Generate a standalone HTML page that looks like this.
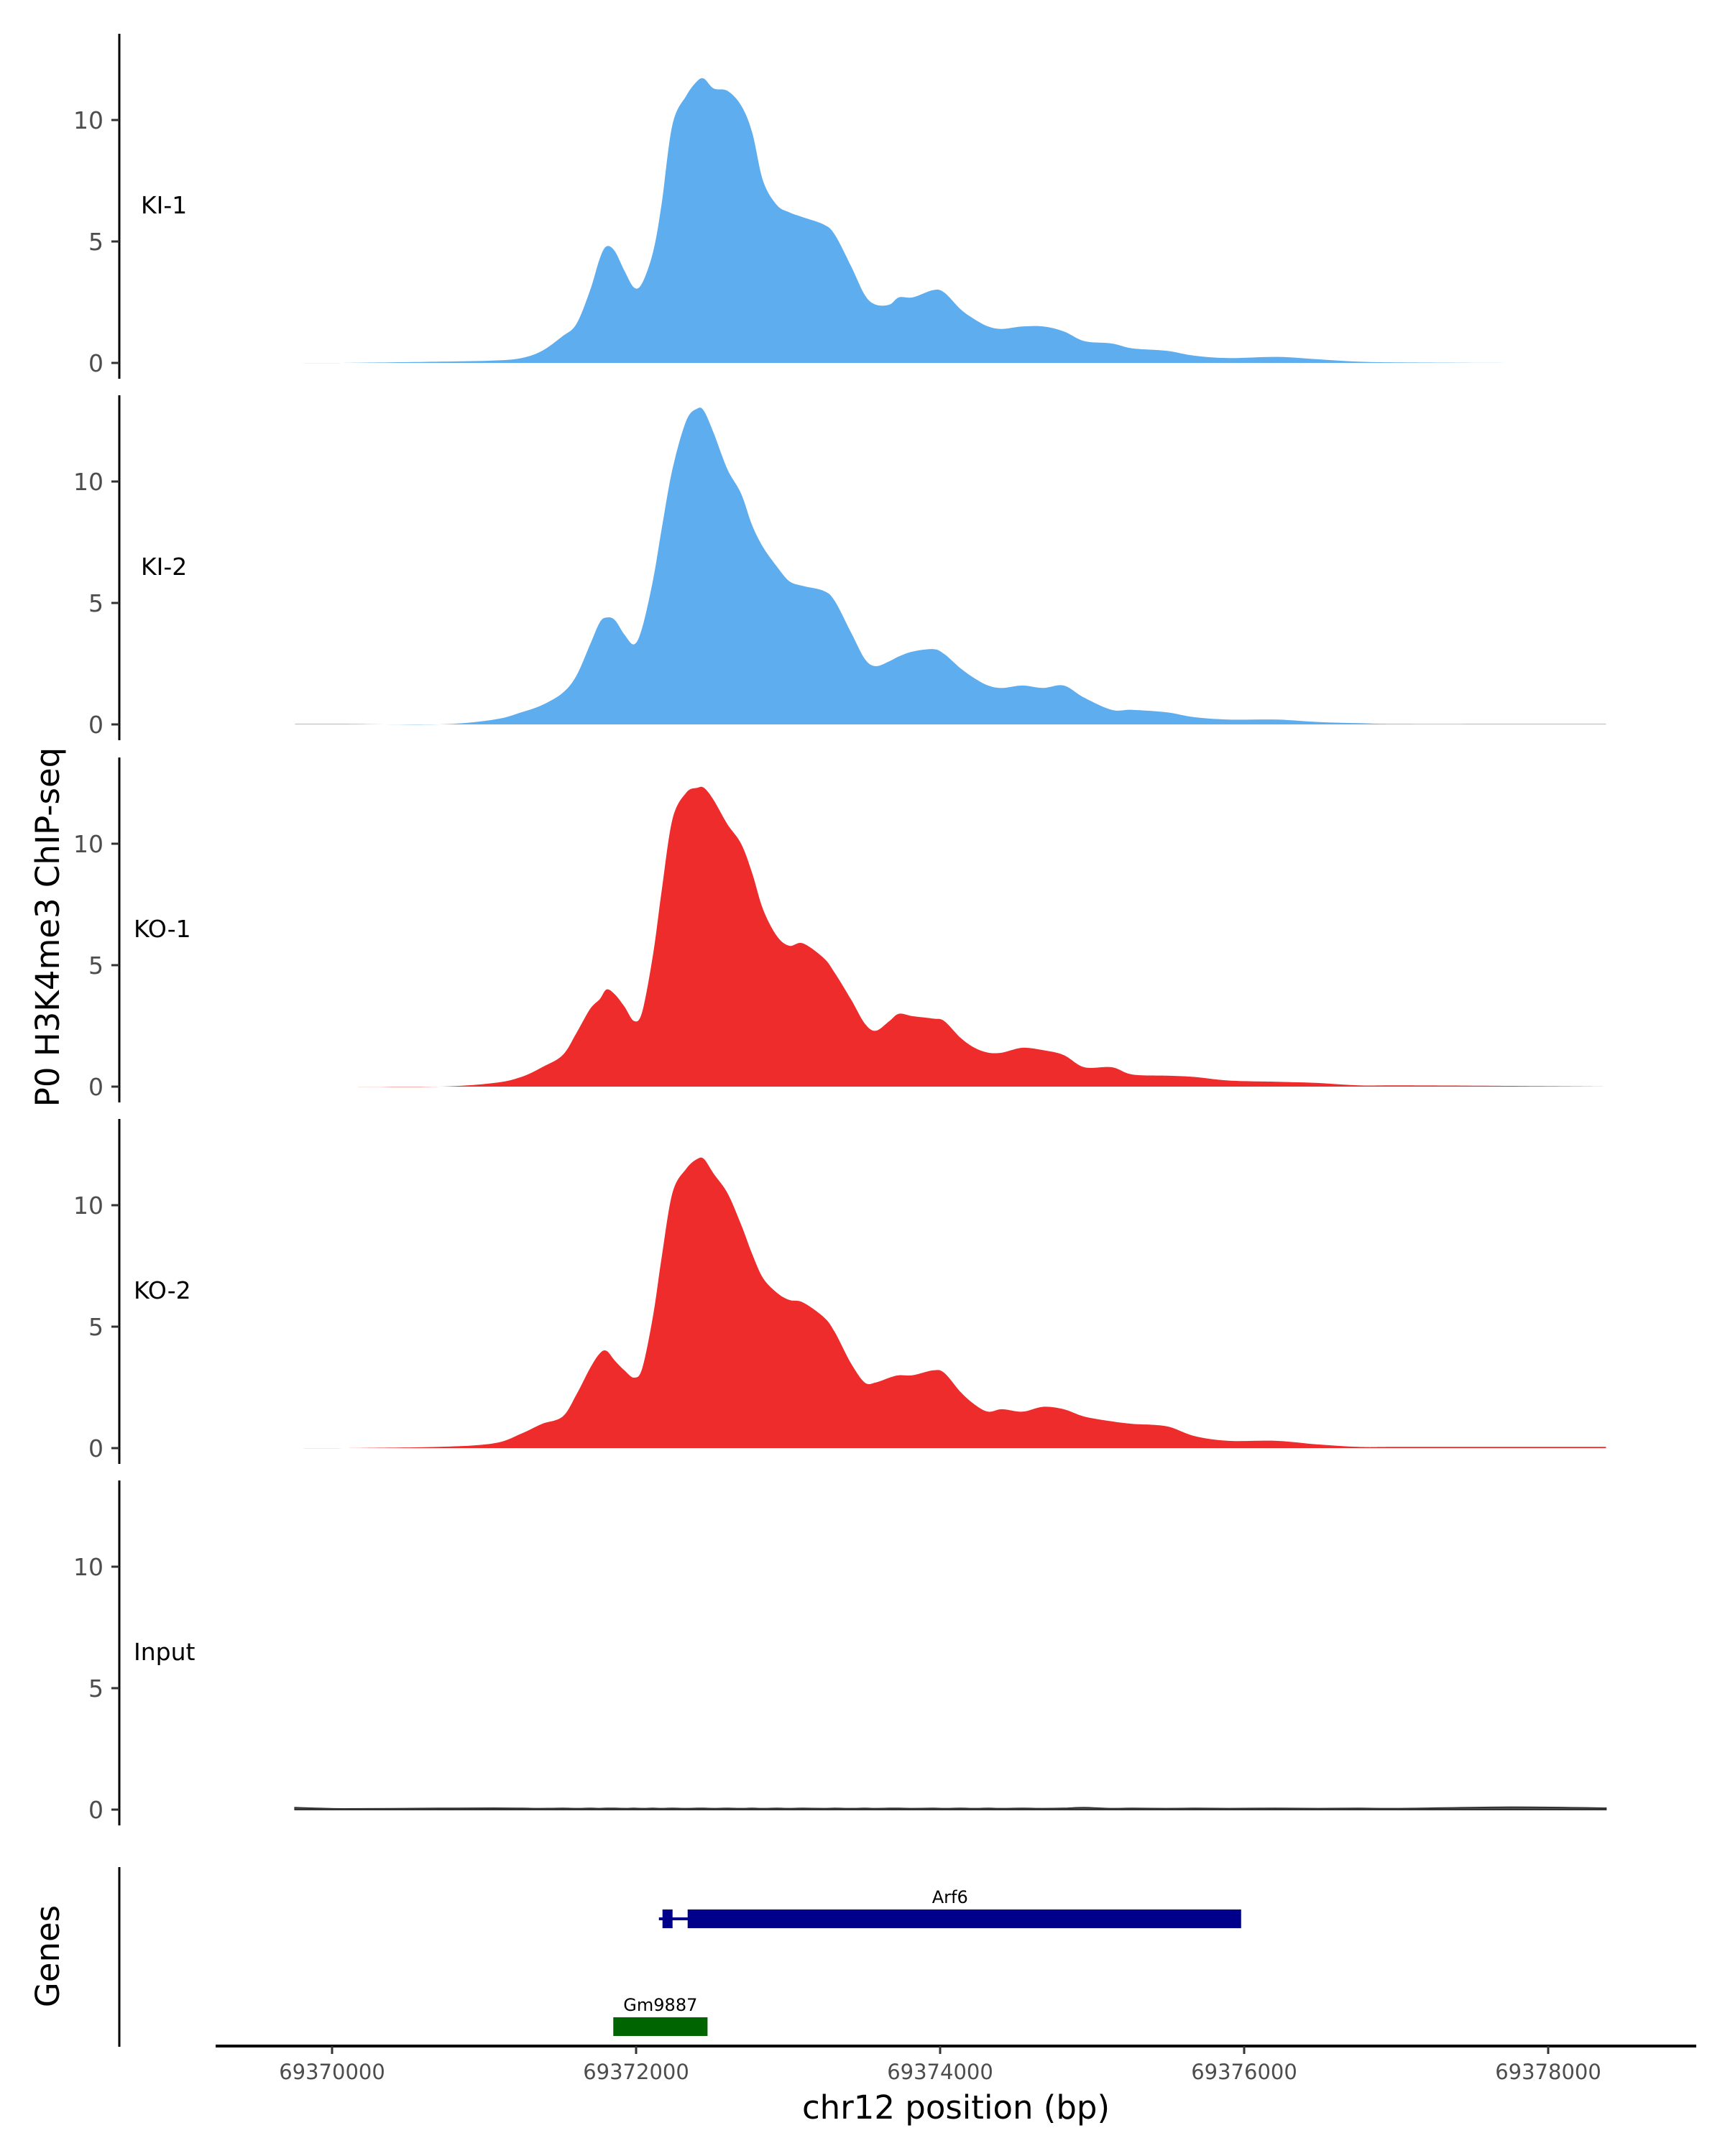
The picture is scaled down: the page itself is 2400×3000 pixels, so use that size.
<!DOCTYPE html>
<html><head><meta charset="utf-8"><style>
html,body{margin:0;padding:0;background:#fff;}
svg{display:block;font-family:"DejaVu Sans","Liberation Sans",sans-serif;}
</style></head><body>
<svg id="chart" width="2400" height="3000" viewBox="0 0 2400 3000" xmlns="http://www.w3.org/2000/svg">
<text x="0" y="0" transform="translate(82,1290) rotate(-90)" text-anchor="middle" font-size="45" fill="#000">P0 H3K4me3 ChIP-seq</text>
<text x="0" y="0" transform="translate(82,2722) rotate(-90)" text-anchor="middle" font-size="45" fill="#000">Genes</text>
<g id="tracks"></g>
<g id="genes"></g>
<g id="xaxis"></g>
<text x="1330" y="2948" text-anchor="middle" font-size="45" fill="#000">chr12 position (bp)</text>
</svg>
<script>
const positions = [69369756,69370072,69370704,69371066,69371246,69371382,69371517,69371607,69371698,69371761,69371806,69371860,69371923,69371987,69372041,69372113,69372167,69372239,69372330,69372402,69372447,69372510,69372601,69372691,69372763,69372835,69372926,69373007,69373097,69373233,69373305,69373413,69373504,69373576,69373666,69373729,69373820,69373955,69374027,69374136,69374226,69374316,69374407,69374542,69374678,69374813,69374948,69375129,69375264,69375490,69375671,69375897,69376213,69376484,69376754,69377025,69377748,69378380];
const ki1 = [0,0,0.05,0.1,0.2,0.5,1.1,1.6,3,4.3,4.8,4.6,3.8,3.1,3.3,4.6,6.5,9.8,11,11.6,11.7,11.3,11.2,10.6,9.5,7.5,6.5,6.2,6,5.7,5.3,4,2.8,2.4,2.4,2.7,2.7,3,2.9,2.2,1.8,1.5,1.4,1.5,1.5,1.3,0.9,0.8,0.6,0.5,0.3,0.2,0.25,0.15,0.05,0.02,0,0];
const ki2 = [0.02,0.02,0,0.2,0.5,0.8,1.3,2,3.3,4.2,4.4,4.3,3.7,3.3,4,6,8,10.5,12.5,13,12.9,12,10.5,9.5,8.2,7.3,6.5,5.9,5.7,5.5,5.1,3.8,2.7,2.4,2.6,2.8,3,3.1,2.9,2.3,1.9,1.6,1.5,1.6,1.5,1.6,1.1,0.6,0.6,0.5,0.3,0.2,0.2,0.1,0.05,0.02,0.02,0.02];
const ko1 = [0,0,0,0.15,0.4,0.8,1.3,2.2,3.2,3.6,4.0,3.8,3.3,2.7,3.1,5.5,8,11,12.1,12.3,12.3,11.8,10.8,10,8.8,7.3,6.2,5.8,5.9,5.3,4.7,3.6,2.6,2.3,2.7,3,2.9,2.8,2.7,2,1.6,1.4,1.4,1.6,1.5,1.3,0.8,0.8,0.5,0.45,0.4,0.25,0.2,0.15,0.05,0.05,0.03,0];
const ko2 = [0,0,0.05,0.2,0.6,1.0,1.3,2.2,3.3,3.9,4.0,3.6,3.2,2.9,3.3,5.5,7.8,10.5,11.5,11.9,11.9,11.3,10.5,9.2,8,7,6.4,6.1,6,5.4,4.8,3.5,2.7,2.7,2.9,3,3,3.2,3.1,2.3,1.8,1.5,1.6,1.5,1.7,1.6,1.3,1.1,1.0,0.9,0.5,0.3,0.3,0.15,0.05,0.05,0.05,0.05];
const inputTrack = [0.08,0.03,0.05,0.06,0.05,0.04,0.05,0.04,0.05,0.04,0.05,0.05,0.04,0.05,0.04,0.05,0.04,0.05,0.04,0.05,0.05,0.04,0.05,0.04,0.05,0.04,0.05,0.04,0.05,0.04,0.05,0.04,0.05,0.04,0.05,0.05,0.04,0.05,0.04,0.05,0.04,0.05,0.04,0.05,0.04,0.05,0.08,0.04,0.05,0.04,0.05,0.04,0.05,0.04,0.05,0.04,0.1,0.06];
const trackNames = ["KI-1","KI-2","KO-1","KO-2","Input"];
const trackColors = ["#5eadee","#5eadee","#ee2c2c","#ee2c2c","#555555"];
const yTicks = [0,5,10];
const xTicks = [69370000,69372000,69374000,69376000,69378000];
const xTickLabels = ["69370000","69372000","69374000","69376000","69378000"];
const genes = [{name:"Arf6",start:69372150,end:69375980,row:0,color:"#00008b"},{name:"Gm9887",start:69371850,end:69372470,row:1,color:"#006400"}];

const NS="http://www.w3.org/2000/svg";
function xs(bp){return 462+(bp-69370000)*0.2115;}
const zeros=[505,1008,1512,2015,2518];
const unit=33.8;
function mk(tag,attrs,parent){const e=document.createElementNS(NS,tag);for(const k in attrs)e.setAttribute(k,attrs[k]);parent.appendChild(e);return e;}
function smooth(pts){
  let d='';
  for(let i=0;i<pts.length-1;i++){
    const p0=pts[Math.max(0,i-1)],p1=pts[i],p2=pts[i+1],p3=pts[Math.min(pts.length-1,i+2)];
    const c1x=p1[0]+(p2[0]-p0[0])/6,c1y=p1[1]+(p2[1]-p0[1])/6;
    const c2x=p2[0]-(p3[0]-p1[0])/6,c2y=p2[1]-(p3[1]-p1[1])/6;
    d+=' C'+c1x.toFixed(1)+','+c1y.toFixed(1)+' '+c2x.toFixed(1)+','+c2y.toFixed(1)+' '+p2[0].toFixed(1)+','+p2[1].toFixed(1);
  }
  return d;
}
const tracks=document.getElementById('tracks');
const series=[ki1,ki2,ko1,ko2,inputTrack];
series.forEach((vals,i)=>{
  const z=zeros[i];
  const g=mk('g',{},tracks);
  
  
  const pts=positions.map((p,j)=>[xs(p),Math.min(z,z-vals[j]*unit)]);
  let d='M'+pts[0][0].toFixed(1)+','+z+' L'+pts[0][0].toFixed(1)+','+pts[0][1].toFixed(1)+smooth(pts)+' L'+pts[pts.length-1][0].toFixed(1)+','+z+' Z';
  const area=mk('path',{d:d,fill:trackColors[i],stroke:i===4?'#333':'none','stroke-width':i===4?2:0},g);
  
  
  const ax=mk('line',{x1:166,x2:166,y1:z-458,y2:z+22,stroke:'#000','stroke-width':3},g);
  
  
  yTicks.forEach(t=>{
    const y=z-t*unit;
    const tk=mk('line',{x1:155,x2:166,y1:y,y2:y,stroke:'#333','stroke-width':3},g);
    
    
    const tl=mk('text',{x:144,y:y+12,'text-anchor':'end','font-size':33,fill:'#4d4d4d'},g);
    tl.textContent=String(t);
    
    
  });
  const lab=mk('text',{x:i>=2?186:196,y:z-208,'font-size':33,fill:'#000'},g);
  lab.textContent=trackNames[i];
  
  
});
const gg=document.getElementById('genes');
const gax=mk('line',{x1:166,x2:166,y1:2598,y2:2848,stroke:'#000','stroke-width':3},gg);


const rowY=[2670,2820];
genes.forEach(gn=>{
  const y=rowY[gn.row];
  const grp=mk('g',{},gg);
  
  
  if(gn.row===0){
    mk('line',{x1:xs(gn.start),x2:xs(gn.start)+70,y1:y,y2:y,stroke:gn.color,'stroke-width':4},grp);
    mk('rect',{x:xs(gn.start)+5,y:y-13,width:14,height:26,fill:gn.color},grp);
    mk('rect',{x:xs(gn.start)+40,y:y-13,width:xs(gn.end)-xs(gn.start)-40,height:26,fill:gn.color},grp);
  } else {
    mk('rect',{x:xs(gn.start),y:y-13,width:xs(gn.end)-xs(gn.start),height:26,fill:gn.color},grp);
  }
  const t=mk('text',{x:(xs(gn.start)+xs(gn.end))/2,y:y-22,'text-anchor':'middle','font-size':24,fill:'#000'},grp);
  t.textContent=gn.name;
});
const xa=document.getElementById('xaxis');
const xl=mk('line',{x1:300,x2:2360,y1:2847,y2:2847,stroke:'#000','stroke-width':4},xa);


xTicks.forEach((t,i)=>{
  const x=xs(t);
  const tk=mk('line',{x1:x,x2:x,y1:2847,y2:2858,stroke:'#333','stroke-width':3},xa);
  
  
  const tl=mk('text',{x:x,y:2893,'text-anchor':'middle','font-size':29,fill:'#4d4d4d'},xa);
  tl.textContent=xTickLabels[i];
  
  
});
</script>
</body></html>
